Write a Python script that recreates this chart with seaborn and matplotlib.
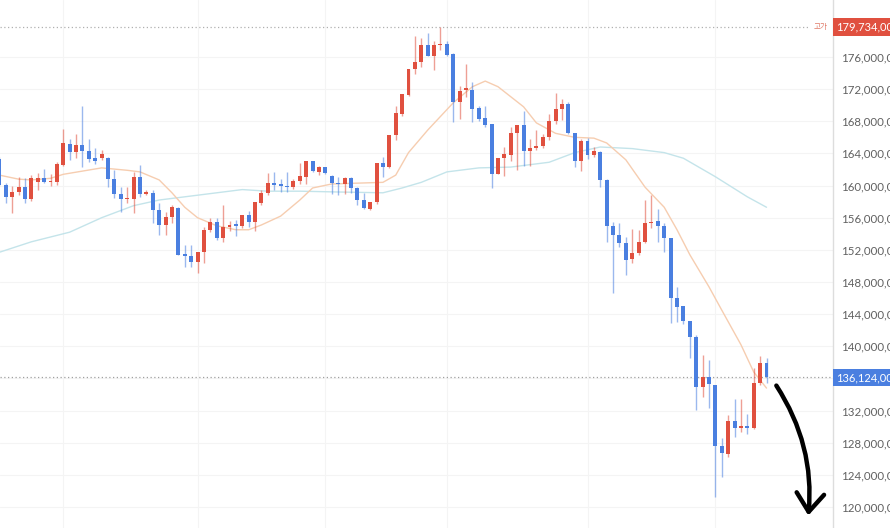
import numpy as np
import pandas as pd
import matplotlib
matplotlib.use("Agg")
import matplotlib.pyplot as plt
from matplotlib.ticker import FixedLocator, FuncFormatter
import seaborn as sns

# daily candles, prices in millions of won
opens = [163.3, 160.1, 158.6, 159.2, 159.8, 158.3, 160.4, 160.9, 160.4, 160.4,
         162.6, 165.2, 164.2, 165.1, 164.3, 163.4, 163.4, 163.4, 160.8, 159.0,
         158.3, 158.3, 161.1, 159.0, 159.1, 157.0, 155.1, 156.1, 157.2, 151.5,
         151.2, 150.5, 151.7, 154.5, 155.5, 153.5, 154.9, 155.1, 155.0, 156.3,
         155.5, 157.8, 159.1, 160.3, 160.1, 160.0, 159.8, 160.6, 161.1, 163.1,
         161.7, 162.3, 161.2, 160.3, 160.2, 160.9, 159.7, 158.2, 157.1, 158.0,
         162.8, 162.3, 166.3, 168.9, 171.3, 174.5, 175.4, 177.5, 176.1, 177.5,
         177.6, 176.4, 170.4, 171.9, 171.9, 169.7, 168.4, 167.7, 161.4, 163.4,
         163.8, 166.5, 167.5, 164.3, 164.7, 164.9, 166.0, 168.0, 169.5, 170.2,
         166.5, 163.1, 165.6, 163.8, 164.2, 160.7, 155.0, 153.9, 152.9, 150.9,
         151.6, 153.0, 155.3, 155.6, 155.0, 153.5, 146.0, 145.0, 143.1, 141.2,
         134.9, 136.2, 135.2, 127.6, 126.6, 130.7, 129.8, 130.1, 129.8, 135.4,
         137.9]
highs = [163.6, 160.3, 160.0, 161.1, 160.9, 161.3, 161.6, 162.1, 161.4, 162.9,
         167.0, 165.8, 166.4, 169.9, 165.8, 164.7, 164.4, 163.6, 161.9, 159.8,
         159.8, 161.7, 162.6, 159.5, 159.5, 157.8, 156.7, 157.6, 157.3, 152.6,
         152.6, 151.7, 154.8, 156.0, 156.0, 157.6, 155.6, 155.7, 156.3, 156.8,
         158.0, 159.5, 161.6, 161.7, 160.8, 161.7, 160.8, 162.8, 163.1, 163.1,
         162.4, 162.3, 161.3, 161.1, 161.1, 161.1, 159.8, 159.1, 158.0, 162.8,
         163.6, 166.3, 169.9, 171.4, 174.5, 178.6, 178.4, 179.0, 178.0, 179.734,
         178.0, 176.5, 172.4, 175.1, 172.9, 169.9, 169.9, 167.7, 163.4, 164.8,
         167.3, 167.5, 169.3, 165.8, 166.9, 166.4, 168.9, 171.5, 170.8, 170.4,
         166.5, 165.8, 165.9, 164.8, 164.3, 160.8, 155.5, 155.3, 153.6, 154.6,
         154.5, 158.2, 158.8, 157.1, 155.3, 153.5, 147.4, 145.0, 143.1, 141.4,
         138.9, 138.3, 135.2, 128.6, 131.5, 133.4, 133.4, 131.6, 137.3, 138.8,
         138.5]
lows = [160.0, 157.8, 156.6, 158.8, 157.8, 158.1, 159.5, 160.3, 160.0, 160.1,
        162.4, 163.2, 163.4, 162.3, 162.9, 162.7, 163.2, 159.8, 158.5, 156.7,
        157.8, 156.6, 158.6, 158.8, 155.3, 153.9, 153.9, 155.3, 151.4, 149.9,
        149.9, 149.1, 150.4, 154.2, 153.2, 153.0, 154.4, 153.7, 154.7, 154.9,
        154.4, 157.6, 158.8, 159.5, 159.2, 159.2, 159.6, 160.2, 160.2, 161.7,
        161.3, 161.4, 159.0, 158.8, 159.0, 159.1, 157.6, 157.1, 157.0, 157.7,
        161.1, 162.2, 165.7, 168.7, 171.2, 173.9, 174.8, 176.1, 174.4, 176.9,
        176.1, 167.9, 168.3, 171.0, 167.9, 168.0, 167.3, 159.7, 161.4, 161.2,
        163.1, 161.9, 162.4, 162.4, 164.4, 164.7, 165.7, 167.7, 168.2, 166.4,
        162.3, 161.8, 163.3, 163.6, 159.8, 153.0, 146.6, 152.4, 148.9, 150.4,
        151.4, 152.9, 154.7, 153.0, 151.7, 142.9, 143.0, 142.8, 138.5, 132.1,
        133.7, 132.3, 121.3, 123.7, 126.2, 128.7, 129.3, 129.1, 129.7, 135.2,
        135.4]
closes = [160.1, 158.6, 159.2, 159.8, 158.3, 160.9, 160.9, 160.4, 160.6, 162.7,
          165.3, 164.2, 165.1, 164.3, 163.3, 163.1, 163.9, 160.8, 159.0, 158.3,
          158.5, 161.1, 159.0, 159.1, 157.0, 155.1, 156.1, 157.3, 151.4, 151.2,
          150.5, 151.7, 154.5, 155.5, 153.5, 154.9, 155.1, 155.0, 156.3, 155.5,
          158.0, 159.1, 160.3, 160.1, 160.0, 159.8, 160.6, 161.2, 163.1, 161.8,
          162.3, 161.6, 160.3, 160.2, 160.9, 159.7, 158.2, 157.2, 158.0, 162.8,
          162.3, 166.3, 169.0, 171.4, 174.5, 175.4, 177.5, 176.1, 177.5, 177.6,
          176.2, 170.4, 171.8, 172.1, 169.5, 168.3, 167.5, 161.4, 163.4, 163.9,
          166.5, 167.5, 164.3, 164.7, 164.9, 166.0, 168.0, 169.5, 170.2, 166.5,
          163.1, 165.6, 163.8, 164.3, 160.7, 155.0, 153.9, 152.9, 150.7, 151.6,
          153.0, 155.3, 155.5, 155.0, 153.5, 146.0, 144.9, 143.1, 141.2, 134.9,
          136.2, 135.3, 127.6, 126.7, 130.7, 129.8, 130.1, 129.8, 135.4, 137.9,
          136.124]

# moving averages (candle index, price)
ma_short_idx = [0, 3, 5, 8, 10, 13, 16, 20, 22, 25, 27, 29, 31, 34, 37, 39, 41, 44, 47, 49,
                52, 56, 60, 62, 64, 67, 71, 74, 76, 78, 82, 84, 87, 90, 93, 95, 98, 101, 104, 106,
                108, 111, 113, 116, 118, 120]
ma_short = [161.3, 160.8, 160.7, 160.9, 161.4, 161.8, 162.2, 161.9, 161.7, 160.7,
            159.1, 157.3, 156.0, 155.0, 154.5, 154.5, 155.1, 156.2, 158.2, 159.7,
            160.2, 160.3, 160.4, 161.3, 164.1, 166.9, 170.3, 172.3, 173.0, 172.3,
            169.8, 167.8, 166.5, 166.0, 165.9, 165.3, 163.2, 159.8, 157.3, 154.5,
            151.4, 147.4, 144.5, 140.2, 136.8, 134.8]
ma_long_idx = [0, 5, 11, 16, 21, 25, 29, 34, 38, 42, 47, 53, 60, 63, 66, 70, 75, 80, 86, 90,
               94, 99, 104, 107, 112, 117, 120]
ma_long = [151.7, 153.0, 154.2, 156.0, 157.5, 158.2, 158.6, 159.1, 159.5, 159.3,
           159.3, 159.2, 159.1, 159.7, 160.4, 161.7, 162.2, 162.3, 162.9, 164.1,
           164.8, 164.6, 164.1, 163.4, 161.1, 158.6, 157.3]

period_high = 179.734
last_price = 136.124
y_ticks = list(range(120, 177, 4))
month_lines = [10, 31, 51, 70, 92, 112]

UP = "#e0503f"
DOWN = "#4a7fe0"

df = pd.DataFrame({"open": opens, "high": highs, "low": lows, "close": closes})
df["i"] = np.arange(len(df))
df["up"] = df["close"] >= df["open"]
df["color"] = np.where(df["up"], UP, DOWN)
df["body_lo"] = df[["open", "close"]].min(axis=1)
df["body_h"] = (df["close"] - df["open"]).abs().clip(lower=0.16)

sns.set_theme(style="white")
plt.rcParams["font.family"] = ["Lato", "Noto Sans CJK KR", "DejaVu Sans"]

fig = plt.figure(figsize=(8.9, 5.28), dpi=100)
ax = fig.add_axes([0, 0, 833 / 890, 1])

for x in month_lines:
    ax.axvline(x, color="#f4f4f4", lw=0.8, zorder=0)
for t in y_ticks:
    ax.axhline(t, color="#f4f4f4", lw=0.8, zorder=0)

sns.lineplot(x=ma_long_idx, y=ma_long, ax=ax, color="#c4e4ea", lw=1.0, zorder=1)
sns.lineplot(x=ma_short_idx, y=ma_short, ax=ax, color="#f6cdb0", lw=1.0, zorder=1)

ax.vlines(df["i"], df["low"], df["high"], colors=df["color"], lw=1.0, alpha=0.55, zorder=2)
ax.bar(df["i"], df["body_h"], bottom=df["body_lo"], width=0.62, color=df["color"],
       linewidth=0, zorder=3)

ax.set_xlim(0.1, 130.4)
ax.set_ylim(117.39, 183.09)

# reference lines: period high and current price
ytr = ax.get_yaxis_transform()
ax.hlines(period_high, 0, 0.97, transform=ytr, colors="#b0b0b0", lw=0.9,
          linestyles=(0, (1, 2)), zorder=1)
ax.hlines(last_price, 0, 1, transform=ytr, colors="#a0a0a0", lw=0.9,
          linestyles=(0, (1, 2)), zorder=1)
ax.text(0.994, period_high, "고가", transform=ytr, ha="right", va="center",
        fontsize=5.5, color="#e07a68")
ax.text(1.004, period_high, f"{int(round(period_high * 1e6)):,}", transform=ytr,
        ha="left", va="center", fontsize=8, color="white",
        bbox=dict(boxstyle="square,pad=0.28", fc=UP, ec="none"))
ax.text(1.004, last_price, f"{int(round(last_price * 1e6)):,}", transform=ytr,
        ha="left", va="center", fontsize=8, color="white",
        bbox=dict(boxstyle="square,pad=0.28", fc=DOWN, ec="none"))


def price_label(v, pos):
    # the current-price tag covers the 136M tick
    if abs(v - last_price) < 1.5:
        return ""
    return f"{int(round(v * 1e6)):,}"


ax.yaxis.tick_right()
ax.yaxis.set_major_locator(FixedLocator(y_ticks))
ax.yaxis.set_major_formatter(FuncFormatter(price_label))
ax.tick_params(axis="y", length=0, pad=6, labelsize=8.3, labelcolor="#606060")
ax.set_xticks([])
for s in ["top", "left", "bottom"]:
    ax.spines[s].set_visible(False)
ax.spines["right"].set_color("#dddddd")
ax.spines["right"].set_linewidth(1)

# hand-drawn arrow
ax.annotate("", xy=(126.5, 118.6), xytext=(121.3, 135.4),
            arrowprops=dict(arrowstyle="->,head_length=0.6,head_width=0.45",
                            mutation_scale=22, lw=3.2, color="black",
                            connectionstyle="arc3,rad=-0.18"))

fig.savefig("out.png", dpi=100)
